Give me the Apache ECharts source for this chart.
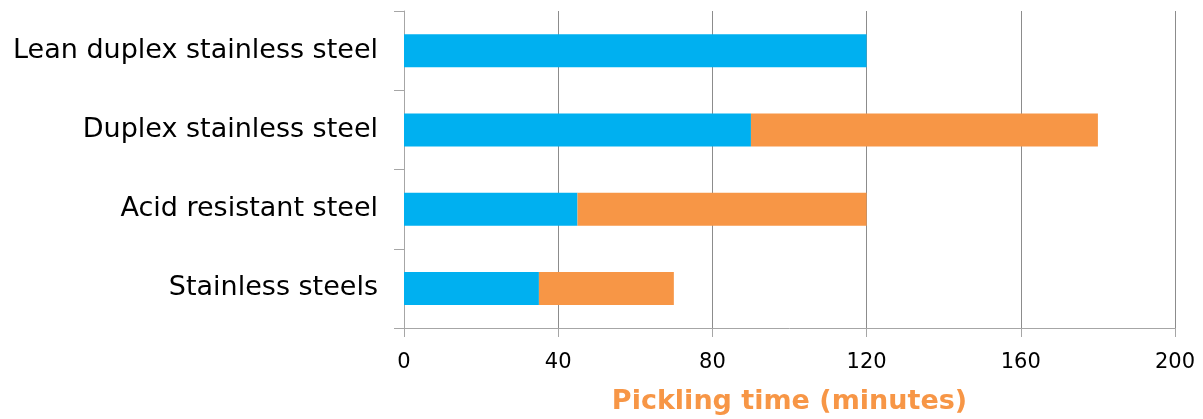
<!DOCTYPE html>
<html><head><meta charset="utf-8">
<script src="https://cdn.jsdelivr.net/npm/echarts@6/dist/echarts.min.js"></script>
<style>html,body{margin:0;padding:0;background:#fff;overflow:hidden}#c{position:absolute;left:0;top:0;width:1203px;height:419px}</style>
</head><body><div id="c"></div>
<script>
const categories = ['Stainless steels', 'Acid resistant steel', 'Duplex stainless steel', 'Lean duplex stainless steel'];
const seriesA = [35, 45, 90, 120];
const seriesB = [35, 75, 90, 0];
const xTicks = [0, 40, 80, 120, 160, 200];

const chart = echarts.init(document.getElementById('c'), null, {renderer: 'canvas'});
chart.setOption({
  animation: false,
  grid: {left: 404, right: 28, top: 11, bottom: 91, containLabel: false, outerBoundsMode: 'none'},
  xAxis: {
    type: 'value', min: xTicks[0], max: xTicks[xTicks.length - 1], interval: 40,
    name: 'Pickling time (minutes)', nameLocation: 'middle', nameGap: 60,
    nameTextStyle: {color: '#F79646', fontFamily: 'DejaVu Sans', fontWeight: 'bold', fontSize: 27},
    axisLine: {show: true, lineStyle: {color: '#A6A6A6', width: 1}},
    axisTick: {show: true, length: 9, lineStyle: {color: '#A6A6A6'}},
    axisLabel: {color: '#000', fontFamily: 'DejaVu Sans', fontSize: 21, margin: 24},
    splitLine: {show: true, lineStyle: {color: '#8C8C8C', width: 1}}
  },
  yAxis: {
    type: 'category', data: categories,
    axisLine: {show: true, lineStyle: {color: '#A6A6A6', width: 1}},
    axisTick: {show: true, length: 10, inside: false, lineStyle: {color: '#A6A6A6'}},
    axisLabel: {color: '#000', fontFamily: 'DejaVu Sans', fontSize: 27, margin: 26},
    splitLine: {show: false}
  },
  series: [
    {type: 'bar', stack: 't', data: seriesA, barWidth: 33, itemStyle: {color: '#00B0F0'}},
    {type: 'bar', stack: 't', data: seriesB, barWidth: 33, itemStyle: {color: '#F79646'}}
  ]
});
</script></body></html>
